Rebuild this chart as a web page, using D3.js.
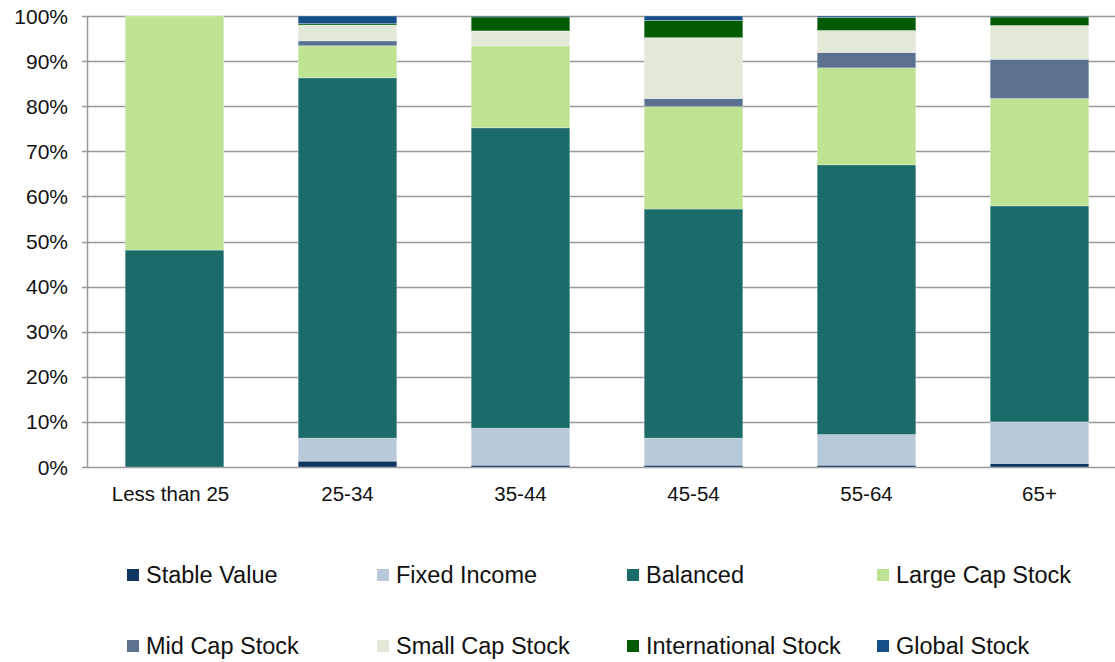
<!DOCTYPE html>
<html>
<head>
<meta charset="utf-8">
<script src="https://cdn.jsdelivr.net/npm/d3@7"></script>
<style>
    body { margin: 0; background: #fff; }
    svg text { font-family: "Liberation Sans", Arial, sans-serif; fill: #111; }
</style>
</head>
<body>
<div id="chart"></div>
<script>
// age groups along the x axis
const categories = ["Less than 25", "25-34", "35-44", "45-54", "55-64", "65+"];

// asset classes, bottom to top of each stack
const seriesNames = ["Stable Value", "Fixed Income", "Balanced", "Large Cap Stock",
                     "Mid Cap Stock", "Small Cap Stock", "International Stock", "Global Stock"];
const seriesColors = ["#10355f", "#b8c9db", "#1a6b69", "#bde393",
                      "#5a7290", "#e2e9d9", "#025b02", "#164e88"];

// percent share per age group (same order as categories)
const stableValue    = [0,    1.3,  0.4,  0.4,  0.4,  0.8];
const fixedIncome    = [0,    5.1,  8.2,  6.0,  6.8,  9.2];
const balanced       = [48.1, 79.9, 66.6, 50.8, 59.8, 47.9];
const largeCapStock  = [51.9, 7.1,  18.2, 22.7, 21.5, 23.8];
const midCapStock    = [0,    1.1,  0,    1.8,  3.4,  8.7];
const smallCapStock  = [0,    3.5,  3.3,  13.5, 4.9,  7.5];
const intlStock      = [0,    0.3,  3.1,  3.8,  2.9,  1.9];
const globalStock    = [0,    1.7,  0.2,  1.0,  0.3,  0.2];

const yTicks = [0, 10, 20, 30, 40, 50, 60, 70, 80, 90, 100];

const seriesValues = [stableValue, fixedIncome, balanced, largeCapStock,
                      midCapStock, smallCapStock, intlStock, globalStock];

const width = 1115, height = 662;
const margin = {top: 16, left: 88, bottom: 195, right: 0};

const svg = d3.select("#chart").append("svg")
    .attr("width", width)
    .attr("height", height);

const x = d3.scaleBand()
    .domain(categories)
    .range([margin.left, margin.left + 173 * 6])
    .paddingInner(0.43)
    .paddingOuter(0.215);

const y = d3.scaleLinear()
    .domain([0, 100])
    .range([height - margin.bottom, margin.top]);

// rows for d3.stack
const table = categories.map((c, i) => {
    const row = {category: c};
    seriesNames.forEach((s, j) => row[s] = seriesValues[j][i]);
    return row;
});
const stacked = d3.stack().keys(seriesNames)(table);

// gridlines
svg.append("g")
    .selectAll("line")
    .data(yTicks)
    .join("line")
    .attr("x1", margin.left - 6)
    .attr("x2", width)
    .attr("y1", d => Math.round(y(d)) + 0.5)
    .attr("y2", d => Math.round(y(d)) + 0.5)
    .attr("stroke", "#999")
    .attr("stroke-width", 1.5);

// y axis line
svg.append("line")
    .attr("x1", margin.left - 0.5).attr("x2", margin.left - 0.5)
    .attr("y1", y(100)).attr("y2", y(0))
    .attr("stroke", "#999")
    .attr("stroke-width", 1.5);

svg.append("g")
    .selectAll("text")
    .data(yTicks)
    .join("text")
    .attr("x", margin.left - 20)
    .attr("y", d => y(d))
    .attr("dy", "0.36em")
    .attr("text-anchor", "end")
    .style("font-size", "21px")
    .text(d => d + "%");

// stacked bars
svg.append("g")
    .selectAll("g")
    .data(stacked)
    .join("g")
    .attr("fill", (d, i) => seriesColors[i])
    .selectAll("rect")
    .data(d => d)
    .join("rect")
    .attr("x", d => x(d.data.category))
    .attr("width", x.bandwidth())
    .attr("y", d => y(d[1]))
    .attr("height", d => Math.max(0, y(d[0]) - y(d[1])))
    .attr("stroke", "rgba(255,255,255,0.35)")
    .attr("stroke-width", 0.8);

// x labels
svg.append("g")
    .selectAll("text")
    .data(categories)
    .join("text")
    .attr("x", (d, i) => x(d) + x.bandwidth() / 2 - (i === 0 ? 4 : 0))
    .attr("y", y(0) + 27)
    .attr("dy", "0.36em")
    .attr("text-anchor", "middle")
    .style("font-size", "20.5px")
    .text(d => d);

// legend, 4 columns x 2 rows
const legend = svg.append("g")
    .selectAll("g")
    .data(seriesNames)
    .join("g")
    .attr("transform", (d, i) => `translate(${127 + (i % 4) * 250},${i < 4 ? 575 : 646})`);

legend.append("rect")
    .attr("x", 0).attr("y", -6)
    .attr("width", 12).attr("height", 12)
    .attr("fill", (d, i) => seriesColors[i]);

legend.append("text")
    .attr("x", 19)
    .attr("y", 0)
    .attr("dy", "0.36em")
    .style("font-size", "23.5px")
    .text(d => d);
</script>
</body>
</html>
